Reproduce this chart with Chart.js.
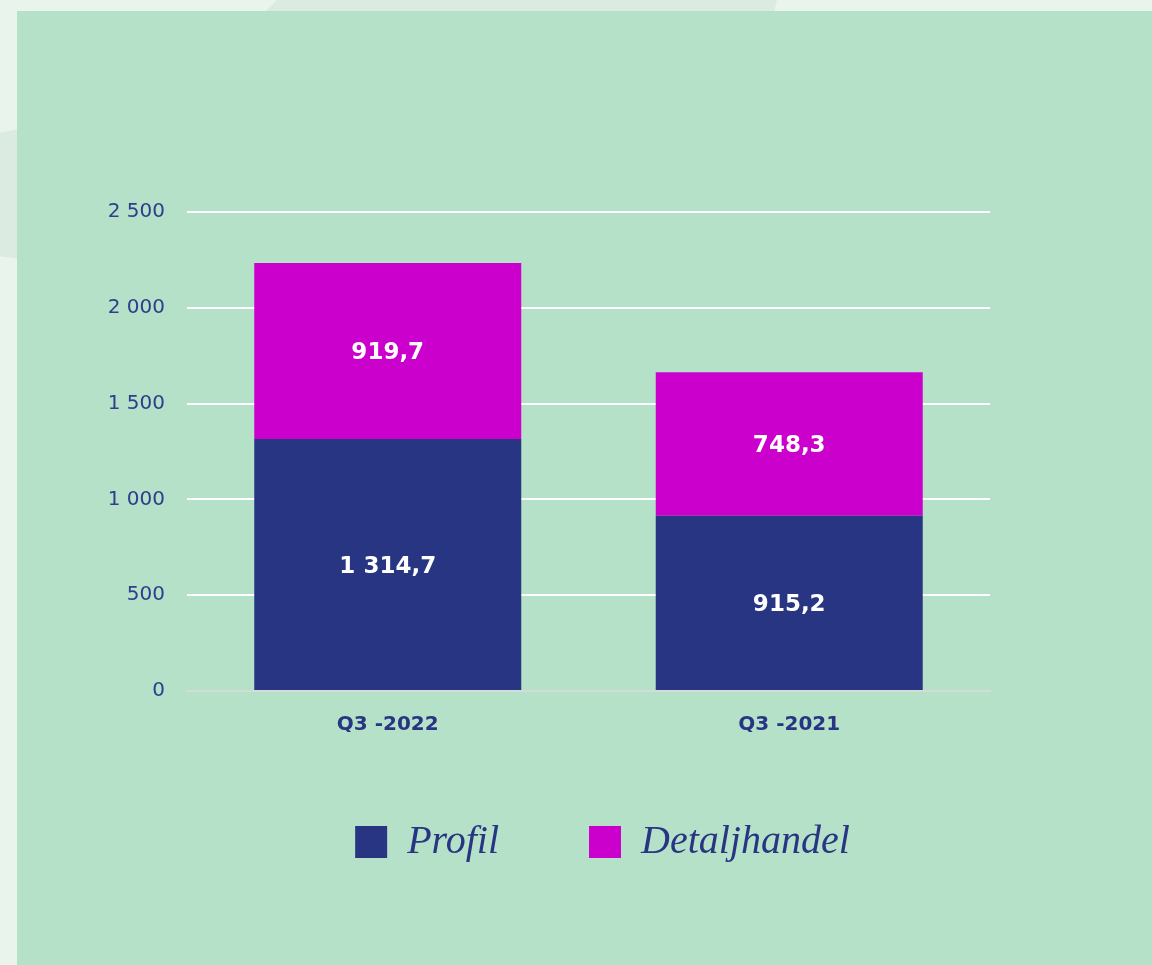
<!DOCTYPE html>
<html>
<head>
<meta charset="utf-8">
<script src="https://cdn.jsdelivr.net/npm/chart.js@4.4.0/dist/chart.umd.min.js"></script>
<style>
    html, body { margin: 0; padding: 0; }
    body {
        width: 1152px; height: 965px; overflow: hidden; position: relative;
        background: #e8f4ec;
    }
    .curva {
        position: absolute; left: -420px; top: -330px; width: 1200px; height: 600px;
        border-radius: 50%; background: #dcebe2;
    }
    .curva-clara {
        position: absolute; left: -540px; top: -440px; width: 880px; height: 580px;
        border-radius: 50%; background: #e8f4ec;
    }
    .panel {
        position: absolute; left: 17px; top: 11px; right: 0; bottom: 0;
        background: #b5e1c8;
    }
    #grafico { position: absolute; left: 0; top: 0; }
</style>
</head>
<body>
<div class="curva"></div>
<div class="curva-clara"></div>
<div class="panel"></div>
<canvas id="grafico" width="1152" height="965"></canvas>
<script>
const categorias = ['Q3 -2022', 'Q3 -2021'];
const profil = [1314.7, 915.2];
const detaljhandel = [919.7, 748.3];
const ticksY = [0, 500, 1000, 1500, 2000, 2500];

const AZUL = '#283583';
const MAGENTA = '#cc00cc';

function formatear(v, decimales) {
    const partes = v.toFixed(decimales).split('.');
    partes[0] = partes[0].replace(/\B(?=(\d{3})+(?!\d))/g, ' ');
    return partes.join(',');
}

// etiquetas blancas dentro de cada segmento
const etiquetasBarras = {
    id: 'etiquetasBarras',
    afterLayout(chart) {
        // la leyenda del original está algo desplazada a la derecha
        if (chart.legend) {
            chart.legend.left += 14;
            chart.legend.right += 14;
        }
    },
    afterDatasetsDraw(chart) {
        const ctx = chart.ctx;
        ctx.save();
        ctx.fillStyle = '#ffffff';
        ctx.font = 'bold 23px "DejaVu Sans"';
        ctx.textAlign = 'center';
        ctx.textBaseline = 'middle';
        chart.data.datasets.forEach((ds, i) => {
            chart.getDatasetMeta(i).data.forEach((bar, j) => {
                const yc = (bar.y + bar.base) / 2 + 2;
                ctx.fillText(formatear(ds.data[j], 1), bar.x, yc);
            });
        });
        ctx.restore();
    }
};

new Chart(document.getElementById('grafico'), {
    type: 'bar',
    data: {
        labels: categorias,
        datasets: [
            { label: 'Profil', data: profil, backgroundColor: AZUL },
            { label: 'Detaljhandel', data: detaljhandel, backgroundColor: MAGENTA }
        ]
    },
    options: {
        responsive: false,
        animation: false,
        barPercentage: 0.665,
        categoryPercentage: 1,
        layout: { padding: { top: 212, right: 162, left: 0, bottom: 93 } },
        plugins: {
            tooltip: { enabled: false },
            legend: {
                position: 'bottom',
                fullSize: false,
                labels: {
                    boxWidth: 32,
                    boxHeight: 32,
                    padding: 90,
                    color: AZUL,
                    font: { family: '"Liberation Serif"', style: 'italic', size: 40 }
                }
            }
        },
        scales: {
            x: {
                stacked: true,
                grid: { display: false, drawTicks: false },
                border: { display: true, color: '#d4dcd8', width: 2 },
                ticks: {
                    color: AZUL,
                    padding: 22,
                    font: { family: '"DejaVu Sans"', weight: 'bold', size: 20 }
                },
                afterFit(scale) { scale.height = 41; }
            },
            y: {
                stacked: true,
                min: 0,
                max: 2500,
                afterBuildTicks(scale) { scale.ticks = ticksY.map(v => ({ value: v })); },
                grid: {
                    color: ctx => ctx.tick && ctx.tick.value === 0 ? 'rgba(0,0,0,0)' : '#ffffff',
                    lineWidth: 2,
                    drawTicks: false
                },
                border: { display: false },
                ticks: {
                    color: '#2f3d8c',
                    padding: 22,
                    font: { family: '"DejaVu Sans"', size: 20 },
                    callback: v => formatear(v, 0)
                },
                afterFit(scale) { scale.width = 187; }
            }
        }
    },
    plugins: [etiquetasBarras]
});
</script>
</body>
</html>
